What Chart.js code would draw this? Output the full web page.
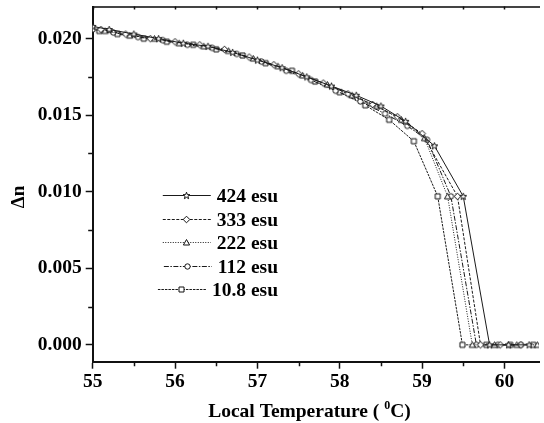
<!DOCTYPE html>
<html>
<head>
<meta charset="utf-8">
<script src="https://cdn.jsdelivr.net/npm/chart.js@4.4.0/dist/chart.umd.min.js"></script>
<style>
  html, body { margin: 0; padding: 0; background: #fff; }
  #chartCanvas { display: block; }
</style>
</head>
<body>
<canvas id="chartCanvas" width="544" height="423"></canvas>
<script>
/* ─── data (temperature in °C, Δn) ─── */
const t424 = [55.0, 55.2, 55.5, 55.8, 56.1, 56.4, 56.7, 57.0, 57.3, 57.6, 57.9, 58.2, 58.5, 58.8, 59.15, 59.5, 59.82, 60.05, 60.3];
const d424 = [0.0208, 0.0206, 0.0203, 0.0200, 0.0197, 0.0195, 0.0191, 0.0186, 0.0181, 0.0175, 0.0169, 0.0163, 0.0156, 0.0146, 0.0130, 0.0097, 0, 0, 0];

const t333 = [55.1, 55.4, 55.7, 56.0, 56.3, 56.6, 56.9, 57.2, 57.5, 57.8, 58.1, 58.4, 58.7, 59.0, 59.43, 59.71, 59.95, 60.2];
const d333 = [0.0206, 0.0203, 0.0200, 0.0198, 0.0196, 0.0193, 0.0188, 0.0183, 0.0177, 0.0171, 0.0164, 0.0157, 0.0149, 0.0138, 0.0097, 0, 0, 0];

const t222 = [55.15, 55.45, 55.75, 56.05, 56.35, 56.65, 56.95, 57.25, 57.55, 57.85, 58.15, 58.45, 58.75, 59.03, 59.31, 59.61, 59.88, 60.15, 60.4];
const d222 = [0.0205, 0.0202, 0.0200, 0.0197, 0.0195, 0.0192, 0.0187, 0.0182, 0.0176, 0.0170, 0.0163, 0.0156, 0.0147, 0.0135, 0.0097, 0, 0, 0, 0];

const t112 = [55.0, 55.25, 55.55, 55.85, 56.15, 56.45, 56.75, 57.05, 57.35, 57.65, 57.95, 58.25, 58.55, 58.82, 59.06, 59.35, 59.66, 59.92, 60.2];
const d112 = [0.0206, 0.0204, 0.0201, 0.0199, 0.0196, 0.0194, 0.0190, 0.0185, 0.0179, 0.0173, 0.0166, 0.0159, 0.0151, 0.0143, 0.0134, 0.0097, 0, 0, 0];

const t108 = [55.08, 55.3, 55.62, 55.9, 56.22, 56.5, 56.82, 57.1, 57.42, 57.7, 58.0, 58.31, 58.6, 58.9, 59.19, 59.49, 59.78, 60.07, 60.35];
const d108 = [0.0205, 0.0203, 0.0200, 0.0198, 0.0196, 0.0193, 0.0189, 0.0184, 0.0179, 0.0172, 0.0165, 0.01565, 0.0147, 0.0133, 0.0097, 0, 0, 0, 0];

const seriesLabels = ['424 esu', '333 esu', '222 esu', '112 esu', '10.8 esu'];

const xTickValues = [55, 55.5, 56, 56.5, 57, 57.5, 58, 58.5, 59, 59.5, 60];
const yTickValues = [0, 0.0025, 0.005, 0.0075, 0.01, 0.0125, 0.015, 0.0175, 0.02];
const xRange = [55, 60.42];
const yRange = [-0.0011, 0.0221];

const FONT = '"Liberation Serif", "Times New Roman", serif';

/* ─── marker images (open symbols, like the original plot) ─── */
function makeMarker(shape) {
  const c = document.createElement('canvas');
  c.width = 11; c.height = 11;
  const g = c.getContext('2d');
  g.fillStyle = '#fff';
  g.strokeStyle = '#111';
  g.lineWidth = 1;
  g.beginPath();
  if (shape === 'square') {
    g.rect(3, 3, 5, 5);
  } else if (shape === 'circle') {
    g.arc(5.5, 5.5, 2.7, 0, Math.PI * 2);
  } else if (shape === 'diamond') {
    g.moveTo(5.5, 2.2); g.lineTo(8.8, 5.5); g.lineTo(5.5, 8.8); g.lineTo(2.2, 5.5); g.closePath();
  } else if (shape === 'triangle') {
    g.moveTo(5.5, 2.5); g.lineTo(8.6, 8); g.lineTo(2.4, 8); g.closePath();
  } else if (shape === 'star') {
    for (let i = 0; i < 10; i++) {
      const r = i % 2 ? 1.5 : 3.6;
      const a = -Math.PI / 2 + i * Math.PI / 5;
      const px = 5.5 + r * Math.cos(a), py = 5.8 + r * Math.sin(a);
      i ? g.lineTo(px, py) : g.moveTo(px, py);
    }
    g.closePath();
  }
  g.fill();
  g.stroke();
  return c;
}

const markers = ['star', 'diamond', 'triangle', 'circle', 'square'].map(makeMarker);
const dashes  = [[], [3, 1.5], [1, 1.5], [5, 1.5, 1.5, 1.5], [2.5, 1]];
const temps   = [t424, t333, t222, t112, t108];
const dns     = [d424, d333, d222, d112, d108];

const datasets = seriesLabels.map((label, i) => ({
  label,
  data: temps[i].map((t, j) => ({ x: t, y: dns[i][j] })),
  showLine: true,
  borderColor: '#1a1a1a',
  borderWidth: 1,
  borderDash: dashes[i],
  pointStyle: markers[i],
  pointRadius: 4,
  tension: 0
}));

/* ─── helpers ─── */
const isMajorX = v => Math.abs(v - Math.round(v)) < 1e-6;
const isMajorY = v => Math.abs(v / 0.005 - Math.round(v / 0.005)) < 1e-6;

/* ─── minor ticks, top-frame ticks, axis titles and inline legend ─── */
const decorPlugin = {
  id: 'decor',
  afterDraw(chart) {
    const { ctx, chartArea: a, scales } = chart;
    const xs = scales.x, ys = scales.y;
    ctx.save();
    ctx.strokeStyle = '#111';
    ctx.lineWidth = 1.5;

    // minor ticks (shorter, outward)
    ctx.beginPath();
    yTickValues.filter(v => !isMajorY(v)).forEach(v => {
      const py = Math.round(ys.getPixelForValue(v)) + 0.5;
      ctx.moveTo(a.left - 4.5, py); ctx.lineTo(a.left, py);
    });
    xTickValues.filter(v => !isMajorX(v)).forEach(v => {
      const px = Math.round(xs.getPixelForValue(v)) + 0.5;
      ctx.moveTo(px, a.bottom); ctx.lineTo(px, a.bottom + 4.5);
    });
    // small inward ticks on the top frame
    xTickValues.forEach(v => {
      const px = Math.round(xs.getPixelForValue(v)) + 0.5;
      ctx.moveTo(px, a.top); ctx.lineTo(px, a.top + 3);
    });
    ctx.stroke();

    // x axis title with superscript 0
    ctx.fillStyle = '#000';
    ctx.textBaseline = 'alphabetic';
    const big = 'bold 19.5px ' + FONT, small = 'bold 12px ' + FONT;
    const p1 = 'Local Temperature ( ', p2 = '0', p3 = 'C)';
    ctx.font = big;
    const w1 = ctx.measureText(p1).width, w3 = ctx.measureText(p3).width;
    ctx.font = small;
    const w2 = ctx.measureText(p2).width;
    let x0 = 309.5 - (w1 + w2 + w3) / 2;
    const base = 417;
    ctx.font = big;   ctx.textAlign = 'left';
    ctx.fillText(p1, x0, base); x0 += w1;
    ctx.font = small; ctx.fillText(p2, x0, base - 8); x0 += w2;
    ctx.font = big;   ctx.fillText(p3, x0, base);

    // y axis title
    ctx.save();
    ctx.translate(24, 197);
    ctx.rotate(-Math.PI / 2);
    ctx.font = 'bold 19px ' + FONT;
    ctx.textAlign = 'center';
    ctx.textBaseline = 'alphabetic';
    ctx.fillText('Δn', 0, 0);
    ctx.restore();

    // inline legend, text right-aligned
    ctx.font = 'bold 19.5px ' + FONT;
    ctx.textAlign = 'right';
    ctx.textBaseline = 'middle';
    chart.data.datasets.forEach((ds, i) => {
      const y = Math.round(195 + i * 23.6) + 0.5;
      const right = 278;
      const w = ctx.measureText(ds.label).width;
      const x2 = right - w - 6, x1 = x2 - 48;
      ctx.strokeStyle = ds.borderColor;
      ctx.lineWidth = 1;
      ctx.setLineDash(ds.borderDash);
      ctx.beginPath(); ctx.moveTo(x1, y); ctx.lineTo(x2, y); ctx.stroke();
      ctx.setLineDash([]);
      ctx.drawImage(ds.pointStyle, Math.round((x1 + x2) / 2 - 5.5), Math.round(y - 5.5));
      ctx.fillStyle = '#000';
      ctx.fillText(ds.label, right, y + 1);
    });
    ctx.restore();
  }
};

const tickFont = { family: FONT, size: 19.5, weight: 'bold' };

new Chart(document.getElementById('chartCanvas').getContext('2d'), {
  type: 'scatter',
  data: { datasets },
  options: {
    responsive: false,
    animation: false,
    devicePixelRatio: 1,
    layout: { padding: { left: 0, right: 0, top: 6.5, bottom: 0 } },
    plugins: { legend: { display: false }, tooltip: { enabled: false } },
    scales: {
      x: {
        type: 'linear', position: 'bottom',
        min: xRange[0], max: xRange[1],
        afterBuildTicks: s => { s.ticks = xTickValues.map(v => ({ value: v })); },
        afterFit: s => { s.height = 61.3; s.paddingLeft = 0; s.paddingRight = 0; },
        ticks: {
          color: '#000', font: tickFont, padding: 2, maxRotation: 0, autoSkip: false,
          callback: v => isMajorX(v) ? String(Math.round(v)) : ''
        },
        grid: {
          drawOnChartArea: false, tickLength: 7, tickWidth: 1.5,
          tickColor: c => (c.tick && isMajorX(c.tick.value)) ? '#111' : 'rgba(0,0,0,0)'
        },
        border: { color: '#111', width: 2 }
      },
      x2: {
        type: 'linear', position: 'top',
        min: xRange[0], max: xRange[1],
        afterFit: s => { s.height = 0; s.paddingLeft = 0; s.paddingRight = 0; },
        ticks: { display: false },
        grid: { drawOnChartArea: false, drawTicks: false },
        border: { color: '#444', width: 2 }
      },
      y: {
        type: 'linear', position: 'left',
        min: yRange[0], max: yRange[1],
        afterBuildTicks: s => { s.ticks = yTickValues.map(v => ({ value: v })); },
        afterFit: s => { s.width = 92.7; s.paddingTop = 0; s.paddingBottom = 0; },
        ticks: {
          color: '#000', font: tickFont, padding: 4, autoSkip: false,
          callback: v => isMajorY(v) ? v.toFixed(3) : ''
        },
        grid: {
          drawOnChartArea: false, tickLength: 7, tickWidth: 1.5,
          tickColor: c => (c.tick && isMajorY(c.tick.value)) ? '#111' : 'rgba(0,0,0,0)'
        },
        border: { color: '#111', width: 2 }
      }
    }
  },
  plugins: [decorPlugin]
});
</script>
</body>
</html>
